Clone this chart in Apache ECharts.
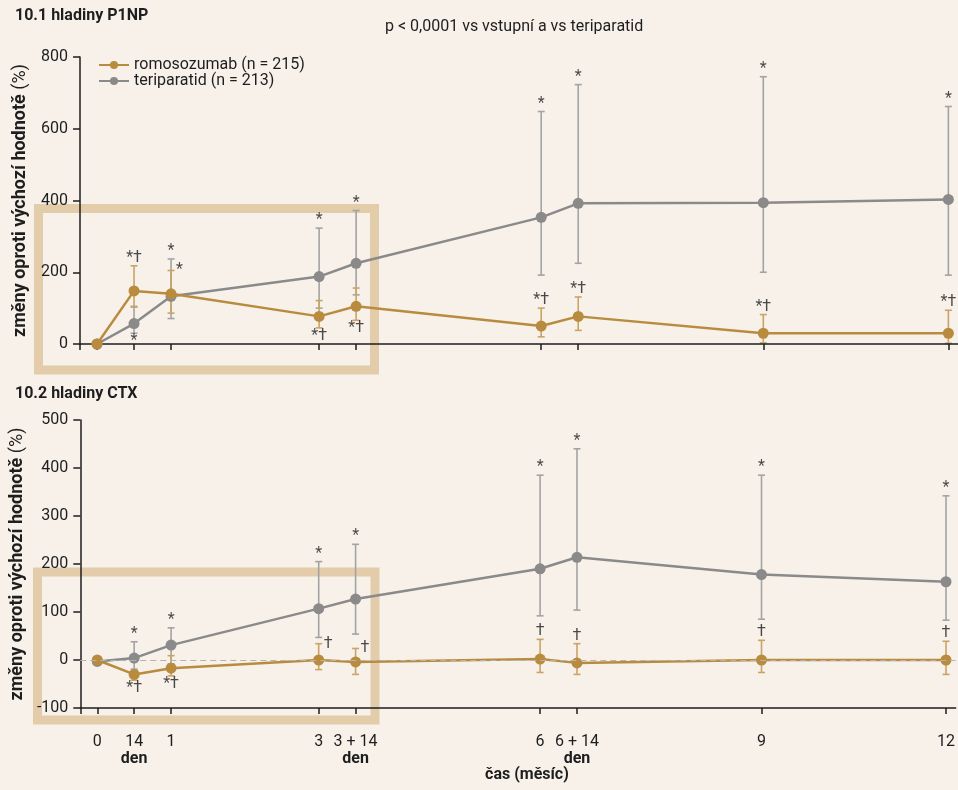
<!DOCTYPE html>
<html>
<head>
<meta charset="utf-8">
<script src="https://cdn.jsdelivr.net/npm/echarts@6/dist/echarts.min.js"></script>
<style>
html,body{margin:0;padding:0;background:#F7F1EA;}
#chart{width:958px;height:790px;}
</style>
</head>
<body>
<div id="chart"></div>
<script>
// ---- data ----
// x positions on the month axis (14 days = half month); last point "12" as drawn in the figure
const xPos = [0, 0.5, 1, 3, 3.5, 6, 6.5, 9, 11.5];
const xLabels = ['0', '14|den', '1', '3', '3 + 14|den', '6', '6 + 14|den', '9', '12'];
const seriesNames = ['romosozumab (n = 215)', 'teriparatid (n = 213)'];

// 10.1 P1NP (% change from baseline)
const romoP1NP   = [0, 148, 140, 77, 105, 50, 77, 30, 30];
const romoP1NPLo = [0, 105, 86, 45, 66, 20, 38, 3, 2];
const romoP1NPHi = [0, 218, 205, 121, 156, 100, 131, 82, 94];
const teriP1NP   = [0, 57, 133, 188, 225, 353, 392, 394, 403];
const teriP1NPLo = [0, 30, 71, 100, 137, 192, 225, 200, 192];
const teriP1NPHi = [0, 103, 237, 323, 372, 648, 723, 745, 662];

// 10.2 CTX (% change from baseline)
const romoCTX   = [0, -30, -17, 0, -4, 2, -6, 0, 0];
const romoCTXLo = [0, -42, -33, -20, -30, -26, -30, -26, -30];
const romoCTXHi = [0, -22, 9, 34, 24, 43, 34, 41, 39];
const teriCTX   = [-3, 4, 31, 107, 127, 190, 214, 178, 163];
const teriCTXLo = [-3, -19, -8, 47, 54, 92, 104, 85, 83];
const teriCTXHi = [-3, 38, 67, 205, 241, 385, 440, 385, 342];

// significance marks: [series, point index, bar end, placement, text]
const p1npMarks = [
  ['romo', 1, 'hi', 'above', '*†'], ['teri', 1, 'lo', 'below', '*'],
  ['teri', 2, 'hi', 'above', '*'],  ['romo', 2, 'hi', 'right', '*'],
  ['teri', 3, 'hi', 'above', '*'],  ['romo', 3, 'lo', 'below', '*†'],
  ['teri', 4, 'hi', 'above', '*'],  ['romo', 4, 'lo', 'below', '*†'],
  ['teri', 5, 'hi', 'above', '*'],  ['romo', 5, 'hi', 'above', '*†'],
  ['teri', 6, 'hi', 'above', '*'],  ['romo', 6, 'hi', 'above', '*†'],
  ['teri', 7, 'hi', 'above', '*'],  ['romo', 7, 'hi', 'above', '*†'],
  ['teri', 8, 'hi', 'above', '*'],  ['romo', 8, 'hi', 'above', '*†']
];
const ctxMarks = [
  ['teri', 1, 'hi', 'above', '*'], ['romo', 1, 'lo', 'below', '*†'],
  ['teri', 2, 'hi', 'above', '*'], ['romo', 2, 'lo', 'below', '*†'],
  ['teri', 3, 'hi', 'above', '*'], ['romo', 3, 'hi', 'right', '†'],
  ['teri', 4, 'hi', 'above', '*'], ['romo', 4, 'hi', 'right', '†'],
  ['teri', 5, 'hi', 'above', '*'], ['romo', 5, 'hi', 'above', '†'],
  ['teri', 6, 'hi', 'above', '*'], ['romo', 6, 'hi', 'above', '†'],
  ['teri', 7, 'hi', 'above', '*'], ['romo', 7, 'hi', 'above', '†'],
  ['teri', 8, 'hi', 'above', '*'], ['romo', 8, 'hi', 'above', '†']
];

// ---- styling ----
const FONT = 'Roboto';
const FS = 16;
const GOLD = '#B98B3E', GOLD_ERR = '#C9A466';
const GREY = '#8A8A8A', GREY_ERR = '#A3A3A3';
const INK = '#1E1E1E';
const xMin = -0.23, xMax = 11.63;

const pairs = (ys) => ys.map((y, i) => [xPos[i], y]);
const errData = (lo, hi) => lo.map((l, i) => [xPos[i], l, hi[i]]).filter(d => d[1] !== d[2]);

function errRender(color) {
  return function (params, api) {
    const x = api.value(0), lo = api.value(1), hi = api.value(2);
    const a = api.coord([x, hi]), b = api.coord([x, lo]);
    const w = 3.5;
    const style = { stroke: color, lineWidth: 1.6 };
    return {
      type: 'group', children: [
        { type: 'line', shape: { x1: a[0], y1: a[1], x2: b[0], y2: b[1] }, style },
        { type: 'line', shape: { x1: a[0] - w, y1: a[1], x2: a[0] + w, y2: a[1] }, style },
        { type: 'line', shape: { x1: b[0] - w, y1: b[1], x2: b[0] + w, y2: b[1] }, style }
      ]
    };
  };
}

function markData(list, ends) {
  return list.map(([s, i, end, place, text]) => {
    const pos = { above: 'top', below: 'bottom', right: 'right' }[place];
    return {
      name: text,
      value: [xPos[i], ends[s][end][i]],
      label: { position: pos, distance: place === 'right' ? 5 : 0 }
    };
  });
}

function lineSeries(name, ys, color, gi, z, extra) {
  return Object.assign({
    type: 'line', name, data: pairs(ys), xAxisIndex: gi, yAxisIndex: gi,
    symbol: 'circle', symbolSize: 11, showSymbol: true,
    itemStyle: { color }, lineStyle: { color, width: 2.5 }, z, animation: false
  }, extra || {});
}
function errSeries(lo, hi, color, gi) {
  return {
    type: 'custom', xAxisIndex: gi, yAxisIndex: gi, data: errData(lo, hi),
    encode: { x: 0, y: [1, 2] }, renderItem: errRender(color), z: 2, silent: true, animation: false
  };
}
function markSeries(list, ends, gi) {
  return {
    type: 'scatter', xAxisIndex: gi, yAxisIndex: gi, symbolSize: 0, silent: true, z: 6,
    data: markData(list, ends), animation: false,
    label: { show: true, formatter: p => p.name, color: INK, fontSize: FS, fontFamily: FONT }
  };
}

function xAxisCfg(gi, showLabels) {
  const labelOf = (v) => {
    const i = xPos.indexOf(v);
    if (i < 0) return '';
    const parts = xLabels[i].split('|');
    return parts.length > 1 ? '{n|' + parts[0] + '}\n{d|' + parts[1] + '}' : '{n|' + parts[0] + '}';
  };
  return {
    type: 'value', gridIndex: gi, min: xMin, max: xMax, z: 3,
    axisLine: { show: true, onZero: false, lineStyle: { color: INK, width: 1.5 } },
    axisTick: { show: true, length: 6, lineStyle: { color: INK, width: 1.5 }, customValues: [xMin].concat(xPos) },
    axisLabel: showLabels ? {
      show: true, customValues: xPos, margin: 25, formatter: labelOf,
      rich: {
        n: { fontSize: FS, fontFamily: FONT, color: INK, lineHeight: 17 },
        d: { fontSize: FS, fontFamily: FONT, color: INK, fontWeight: 'bold', lineHeight: 17 }
      }
    } : { show: false },
    splitLine: { show: false },
    name: showLabels ? 'čas (měsíc)' : '',
    nameLocation: 'middle', nameGap: 58,
    nameTextStyle: { fontSize: FS, fontWeight: 'bold', color: INK, fontFamily: FONT, padding: [0, 0, 0, 18] }
  };
}
function yAxisCfg(gi, min, max, interval) {
  return {
    type: 'value', gridIndex: gi, min, max, interval, z: 3,
    axisLine: { show: true, onZero: false, lineStyle: { color: INK, width: 1.5 } },
    axisTick: { show: true, length: 7, lineStyle: { color: INK, width: 1.5 } },
    axisLabel: { fontSize: FS, color: INK, fontFamily: FONT, margin: 12 },
    splitLine: { show: false },
    name: '{b|změny oproti výchozí hodnotě }{r|(%)}',
    nameLocation: 'middle', nameGap: 51,
    nameTextStyle: {
      rich: {
        b: { fontSize: 18, fontWeight: 'bold', color: INK, fontFamily: FONT },
        r: { fontSize: 18, color: INK, fontFamily: FONT }
      }
    }
  };
}

const chart = echarts.init(document.getElementById('chart'), null, { renderer: 'canvas' });
const option = {
  backgroundColor: '#F7F1EA',
  animation: false,
  textStyle: { fontFamily: FONT },
  grid: [
    { left: 80, right: 0, top: 57, height: 287 },
    { left: 80, right: 0, top: 420, height: 288 }
  ],
  legend: {
    data: seriesNames, orient: 'vertical', left: 93, top: 52, itemGap: 0,
    itemWidth: 30, itemHeight: 10,
    textStyle: { fontSize: FS, lineHeight: 15, color: INK, fontFamily: FONT }
  },
  xAxis: [xAxisCfg(0, false), xAxisCfg(1, true)],
  yAxis: [yAxisCfg(0, 0, 800, 200), yAxisCfg(1, -100, 500, 100)],
  graphic: [
    { type: 'text', left: 15, top: 8, style: { text: '10.1 hladiny P1NP', fontSize: FS, fontWeight: 'bold', fill: INK, fontFamily: FONT } },
    { type: 'text', left: 385, top: 19, style: { text: 'p < 0,0001 vs vstupní a vs teriparatid', fontSize: FS, fill: INK, fontFamily: FONT } },
    { type: 'text', left: 15, top: 386, style: { text: '10.2 hladiny CTX', fontSize: FS, fontWeight: 'bold', fill: INK, fontFamily: FONT } },
    { type: 'rect', z: -10, shape: { x: 38.5, y: 208.5, width: 336, height: 161.5 }, style: { fill: 'none', stroke: '#E3CCA9', lineWidth: 9 } },
    { type: 'rect', z: -10, shape: { x: 37.5, y: 572, width: 337.5, height: 148 }, style: { fill: 'none', stroke: '#E3CCA9', lineWidth: 9 } }
  ],
  series: [
    errSeries(teriP1NPLo, teriP1NPHi, GREY_ERR, 0),
    errSeries(romoP1NPLo, romoP1NPHi, GOLD_ERR, 0),
    lineSeries(seriesNames[1], teriP1NP, GREY, 0, 3),
    lineSeries(seriesNames[0], romoP1NP, GOLD, 0, 4),
    markSeries(p1npMarks, { romo: { lo: romoP1NPLo, hi: romoP1NPHi }, teri: { lo: teriP1NPLo, hi: teriP1NPHi } }, 0),

    errSeries(teriCTXLo, teriCTXHi, GREY_ERR, 1),
    errSeries(romoCTXLo, romoCTXHi, GOLD_ERR, 1),
    lineSeries(seriesNames[1], teriCTX, GREY, 1, 3, {
      markLine: {
        silent: true, symbol: 'none', label: { show: false },
        lineStyle: { type: [6, 4], color: '#B3B3B3', width: 1 },
        data: [{ yAxis: 0 }]
      }
    }),
    lineSeries(seriesNames[0], romoCTX, GOLD, 1, 4),
    markSeries(ctxMarks, { romo: { lo: romoCTXLo, hi: romoCTXHi }, teri: { lo: teriCTXLo, hi: teriCTXHi } }, 1)
  ]
};
chart.setOption(option);
</script>
</body>
</html>
